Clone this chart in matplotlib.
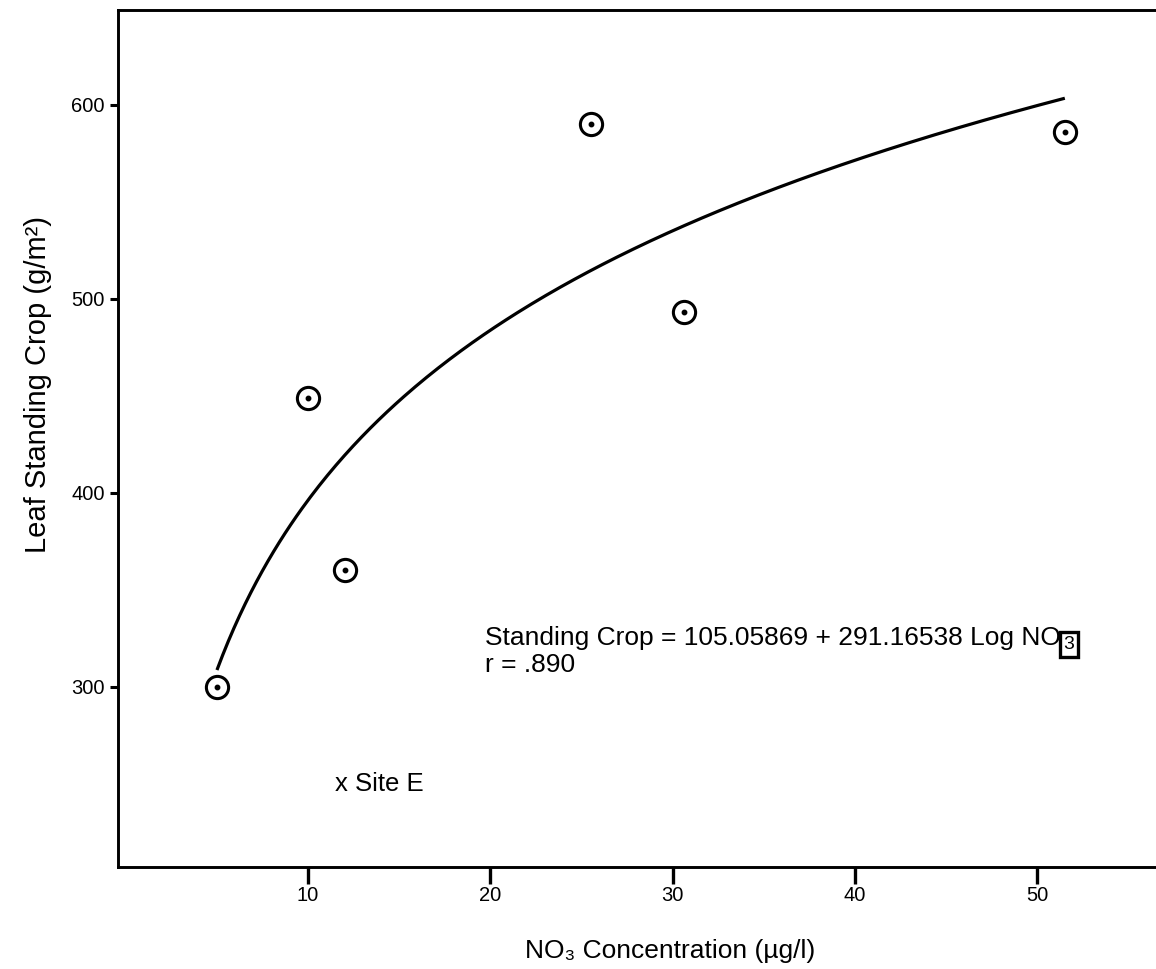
import numpy as np
import matplotlib
matplotlib.use("Agg")
import matplotlib.pyplot as plt

plt.rcParams["font.family"] = ["Liberation Sans", "DejaVu Sans"]

# observed sites: NO3 concentration (ug/l) vs leaf standing crop (g/m2)
no3 = [5, 10, 12, 25.5, 30.6, 51.5]
standing_crop = [300, 449, 360, 590, 493, 586]

# regression: standing crop = a + b log10(NO3)
fit_a = 105.05869
fit_b = 291.16538
fit_r = 0.890

x_ticks = [10, 20, 30, 40, 50]
y_ticks = [300, 400, 500, 600]

fig = plt.figure(figsize=(11.56, 9.69), dpi=100)
ax = fig.add_axes([0.1025, 0.1053, 0.8975, 0.8844])

xs = np.linspace(min(no3), max(no3), 300)
ax.plot(xs, fit_a + fit_b * np.log10(xs), color="black", lw=2.3,
        solid_capstyle="butt")

ax.plot(no3, standing_crop, linestyle="none", marker="o", ms=16,
        mfc="white", mec="black", mew=2.2)
ax.plot(no3, standing_crop, linestyle="none", marker="o", ms=3.2,
        mfc="black", mec="black")

ax.set_xlim(-0.4, 56.5)
ax.set_ylim(207, 649)
ax.set_xticks(x_ticks)
ax.set_yticks(y_ticks)
ax.tick_params(axis="x", direction="out", length=12, width=2.4, pad=2,
               labelsize=14.5)
ax.tick_params(axis="y", direction="out", length=6, width=2.2, pad=4,
               labelsize=14.5)

for side in ["left", "top", "bottom"]:
    ax.spines[side].set_linewidth(2.1)
ax.spines["right"].set_visible(False)

eq = ax.text(19.7, 321.5,
             f"Standing Crop = {fit_a:.5f} + {fit_b:.5f} Log NO",
             fontsize=19, va="baseline")
# subscript of NO3, boxed
ax.annotate("3", xy=(1, 1), xycoords=eq, xytext=(2, -7),
            textcoords="offset points", fontsize=14, va="top", ha="left",
            bbox=dict(boxstyle="square,pad=0.2", fc="white", ec="black",
                      lw=2.4))
ax.text(19.7, 307.5, f"r = {fit_r:.3f}".replace("0.", "."),
        fontsize=19, va="baseline")
ax.text(11.5, 246, "x Site E", fontsize=18.5, va="baseline")

fig.text(0.033, 0.603, "Leaf Standing Crop (g/m\u00b2)", rotation=90,
         fontsize=21, ha="center", va="center")
fig.text(0.580, 0.0186, "NO\u2083 Concentration (\u00b5g/l)",
         fontsize=19, ha="center", va="center")

fig.savefig("out.png", dpi=100)
